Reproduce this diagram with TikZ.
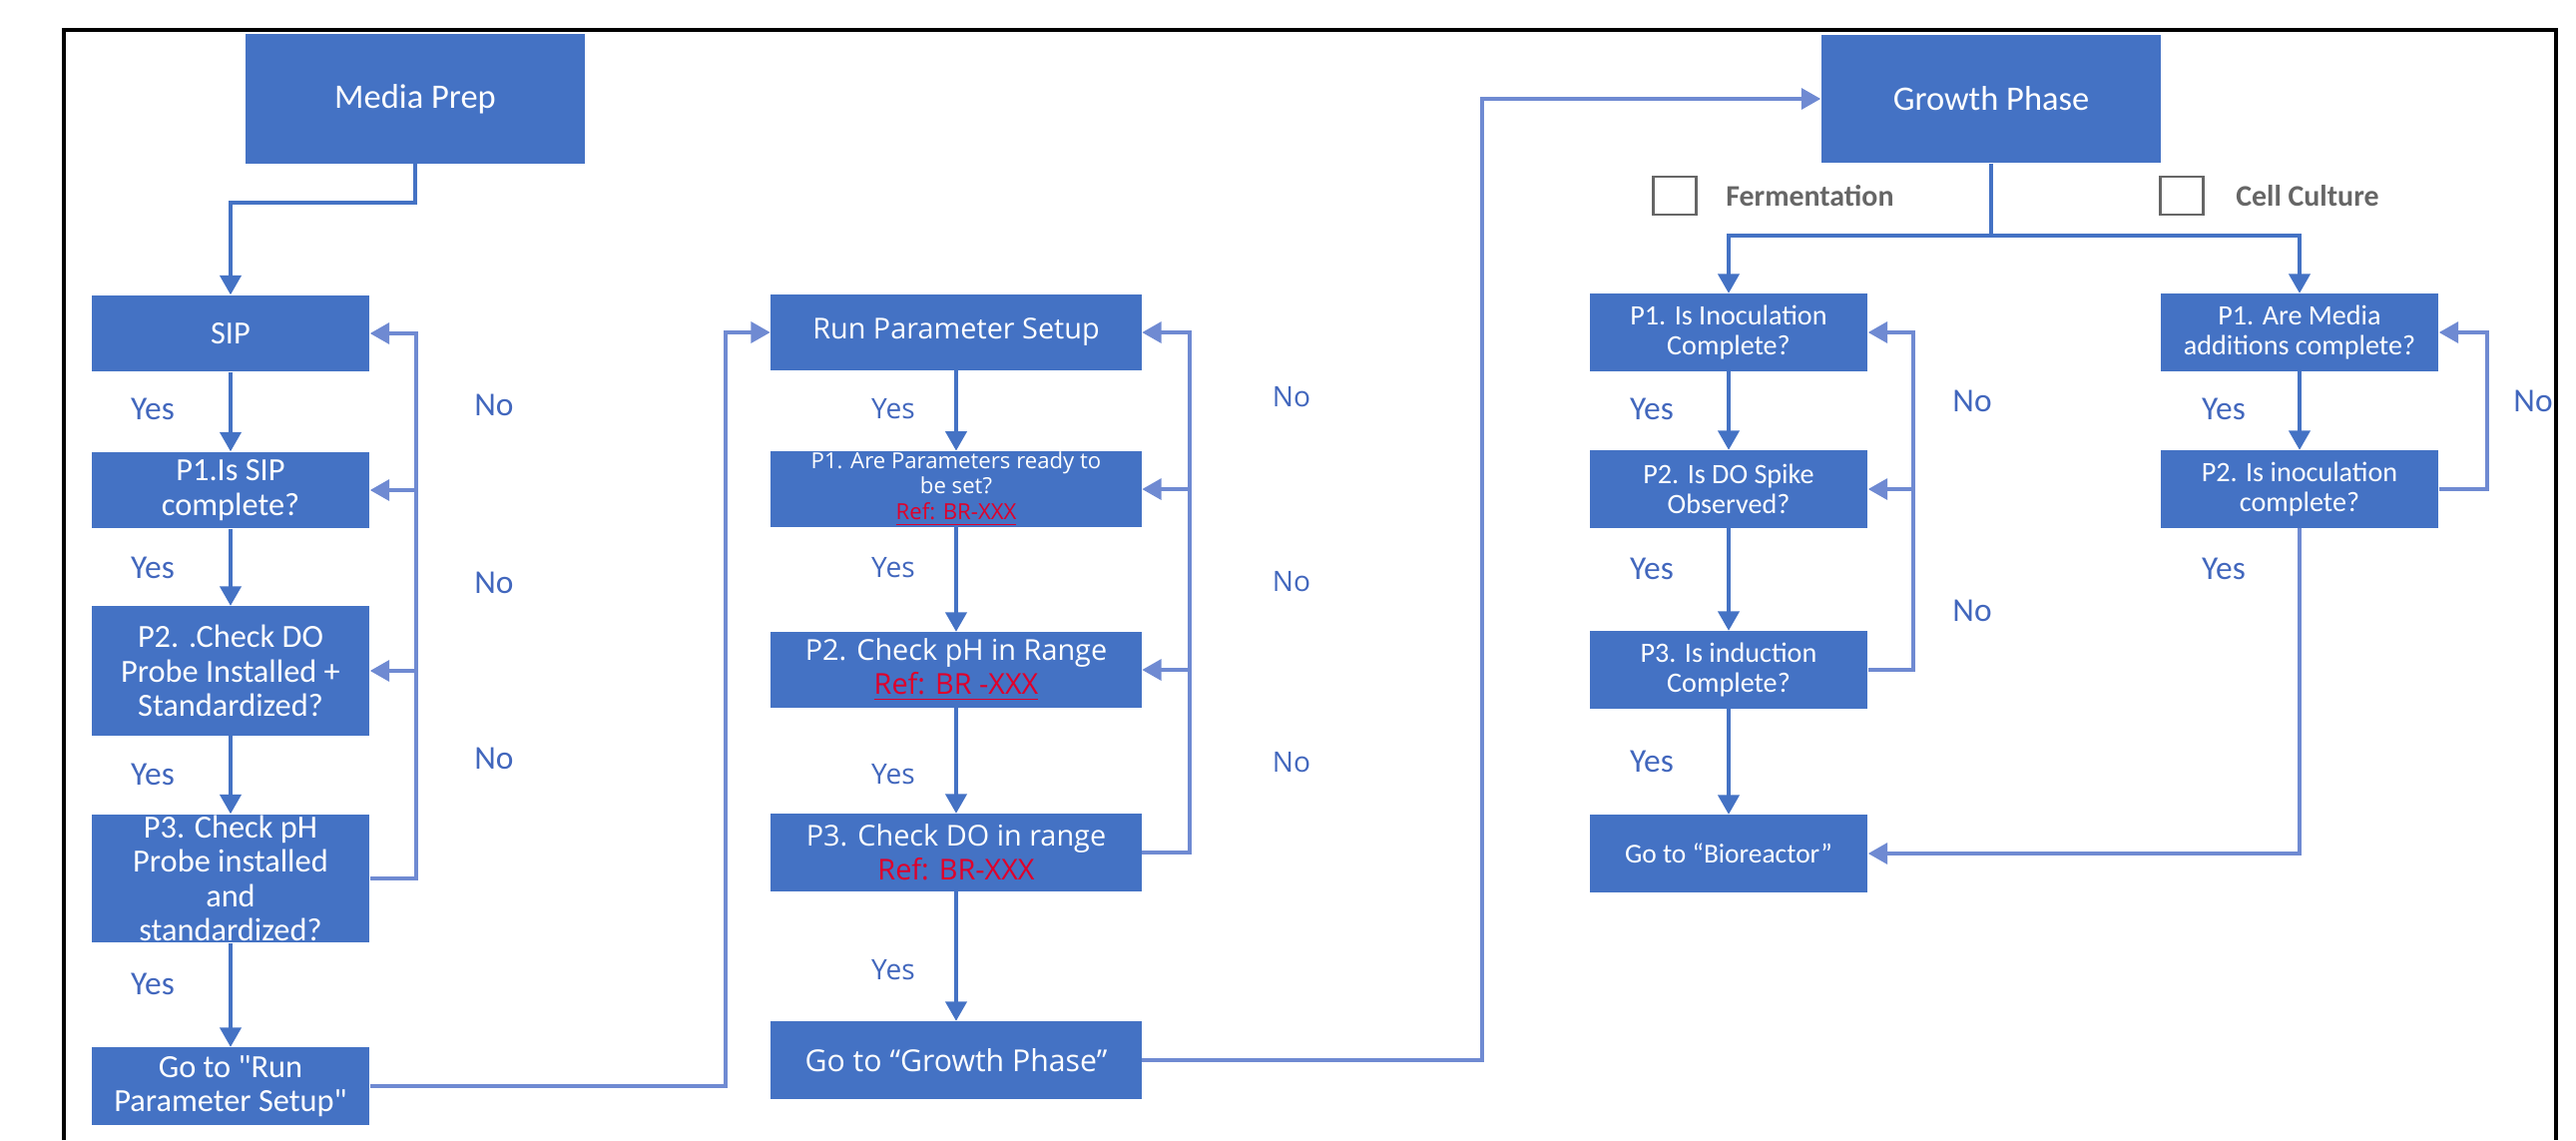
\documentclass[tikz,border=0pt]{standalone}
\usepackage{fontspec}
\setmainfont{Carlito}
\newfontfamily\widefont{Open Sans}
\usepackage{tikz}
\usetikzlibrary{arrows.meta}
\usetikzlibrary{positioning}
\usepackage{xcolor}

\definecolor{boxblue}{HTML}{4472C4}
\definecolor{lineblue}{HTML}{4472C4}
\definecolor{loopblue}{HTML}{6F8AD2}
\definecolor{lblblue}{HTML}{4267BD}
\definecolor{refred}{HTML}{E0002A}
\definecolor{optgray}{HTML}{666666}

\tikzset{
	proc/.style={rectangle, fill=boxblue, text=white, inner sep=0pt, align=center},
	headbox/.style={proc, minimum width=3.4cm, minimum height=1.29cm, font=\fontsize{9.8}{11}\selectfont},
	leftbox/.style={proc, minimum width=2.78cm, font=\fontsize{9.2}{9.8}\selectfont},
	midbox/.style={proc, minimum width=3.71cm, minimum height=0.75cm, font=\widefont\fontsize{8.2}{9.7}\selectfont},
	rightbox/.style={proc, minimum width=2.78cm, minimum height=0.77cm, font=\fontsize{8}{8.5}\selectfont},
	flow/.style={draw=lineblue, line width=1pt, -{Triangle[width=6pt,length=5.5pt]}},
	loopline/.style={flow, draw=loopblue, line width=0.9pt},
	yesno/.style={text=lblblue, inner sep=0pt, font=\fontsize{9.5}{10}\selectfont},
	midlbl/.style={yesno, font=\widefont\fontsize{8}{9}\selectfont},
	optbox/.style={draw=optgray, line width=0.6pt, minimum width=0.43cm, minimum height=0.38cm, inner sep=0pt},
	optlbl/.style={text=optgray, inner sep=0pt, font=\bfseries\fontsize{8.5}{9}\selectfont}
}

\begin{document}
\begin{tikzpicture}[x=0.01cm, y=-0.01cm]
	\useasboundingbox (0,0) rectangle (2581,1142);
	\draw[line width=1.2pt] (64,1142) -- (64,30) -- (2561,30) -- (2561,1142);

	% Media prep / SIP column
	\node[headbox] (media) at (416,99) {Media Prep};
	\node[leftbox, minimum height=0.76cm] (sip) at (231,334) {SIP};
	\node[leftbox, minimum height=0.76cm] (lp1) at (231,491) {P1.Is SIP\\complete?};
	\node[leftbox, minimum height=1.29cm] (lp2) at (231,672) {P2. .Check DO\\Probe Installed +\\Standardized?};
	\node[leftbox, minimum height=1.28cm] (lp3) at (231,880) {P3. Check pH\\Probe installed\\and\\standardized?};
	\node[leftbox, minimum height=0.77cm] (lgo) at (231,1088) {Go to \textquotedbl Run\\Parameter Setup\textquotedbl};

	% run parameter setup column
	\node[midbox] (run) at (958,333) {Run Parameter Setup};
	\node[midbox, minimum height=0.74cm, font=\widefont\fontsize{6.3}{7.3}\selectfont] (cp1) at (958,490)
		{P1. Are Parameters ready to\\be set?\\\textcolor{refred}{\underline{Ref: BR-XXX}}};
	\node[midbox] (cp2) at (958,671) {P2. Check pH in Range\\\textcolor{refred}{\underline{Ref: BR -XXX}}};
	\node[midbox, minimum height=0.77cm] (cp3) at (958,854) {P3. Check DO in range\\\textcolor{refred}{Ref: BR-XXX}};
	\node[midbox, minimum height=0.77cm, font=\widefont\fontsize{8.6}{9.7}\selectfont] (cgo) at (958,1062) {Go to “Growth Phase”};

	% growth phase
	\node[headbox, minimum width=3.4cm, minimum height=1.28cm] (growth) at (1995,99) {Growth Phase};
	\node[optbox] (fermbox) at (1678,196) {};
	\node[optlbl, right=0.28cm of fermbox] (fermlbl) {Fermentation};
	\node[optbox] (ccbox) at (2186,196) {};
	\node[optlbl, right=0.31cm of ccbox] (cclbl) {Cell Culture};

	\node[rightbox] (fp1) at (1732,333) {P1. Is Inoculation\\Complete?};
	\node[rightbox] (fp2) at (1732,490) {P2. Is DO Spike\\Observed?};
	\node[rightbox] (fp3) at (1732,671) {P3. Is induction\\Complete?};
	\node[rightbox, font=\fontsize{7.8}{8.5}\selectfont] (fgo) at (1732,855) {Go to “Bioreactor”};
	\node[rightbox] (cc1) at (2304,333) {P1. Are Media\\additions complete?};
	\node[rightbox] (cc2) at (2304,490) {P2. Is inoculation\\complete?};

	% yes / no labels
	\foreach \nm/\x/\y in {ly1/153/410, ly2/153/569, ly3/153/776, ly4/153/986,
		fy1/1655/410, fy2/1655/570, fy3/1655/763, cy1/2228/410, cy2/2228/570}
		\node[yesno] (\nm) at (\x,\y) {Yes};
	\foreach \nm/\x/\y in {ln1/495/406, ln2/495/584, ln3/495/760,
		fn1/1976/402, fn2/1976/612, ccn1/2538/402}
		\node[yesno] (\nm) at (\x,\y) {No};
	\foreach \nm/\y in {my1/410, my2/569, my3/776, my4/972}
		\node[midlbl] (\nm) at (895,\y) {Yes};
	\foreach \nm/\y in {mn1/398, mn2/583, mn3/764}
		\node[midlbl] (\nm) at (1294,\y) {No};

	% connectors
	\coordinate (lx) at (417,0);
	\coordinate (jx) at (727,0);
	\coordinate (cx) at (1192,0);
	\coordinate (gx) at (1485,0);
	\coordinate (fx) at (1917,0);
	\coordinate (ccx) at (2492,0);
	\coordinate (split) at (1995,236);

	\draw[flow] (media.south) -- ++(0,39) -| (sip.north);
	\draw[flow] (sip) -- (lp1);
	\draw[flow] (lp1) -- (lp2);
	\draw[flow] (lp2) -- (lp3);
	\draw[flow] (lp3) -- (lgo);
	\draw[loopline] (lp3.east) -| (lx |- sip.east) -- (sip.east);
	\draw[loopline] (lx |- lp1.east) -- (lp1.east);
	\draw[loopline] (lx |- lp2.east) -- (lp2.east);
	\draw[loopline] (lgo.east) -| (jx |- run.west) -- (run.west);

	\draw[flow] (run) -- (cp1);
	\draw[flow] (cp1) -- (cp2);
	\draw[flow] (cp2) -- (cp3);
	\draw[flow] (cp3) -- (cgo);
	\draw[loopline] (cp3.east) -| (cx |- run.east) -- (run.east);
	\draw[loopline] (cx |- cp1.east) -- (cp1.east);
	\draw[loopline] (cx |- cp2.east) -- (cp2.east);
	\draw[loopline] (cgo.east) -| (gx |- growth.west) -- (growth.west);

	\draw[flow, -] (growth.south) -- (split);
	\draw[flow] (split) -| (fp1.north);
	\draw[flow] (split) -| (cc1.north);
	\draw[flow] (fp1) -- (fp2);
	\draw[flow] (fp2) -- (fp3);
	\draw[flow] (fp3) -- (fgo);
	\draw[loopline] (fp3.east) -| (fx |- fp1.east) -- (fp1.east);
	\draw[loopline] (fx |- fp2.east) -- (fp2.east);
	\draw[flow] (cc1) -- (cc2);
	\draw[loopline] (cc2.east) -| (ccx |- cc1.east) -- (cc1.east);
	\draw[loopline] (cc2.south) |- (fgo.east);
\end{tikzpicture}
\end{document}
